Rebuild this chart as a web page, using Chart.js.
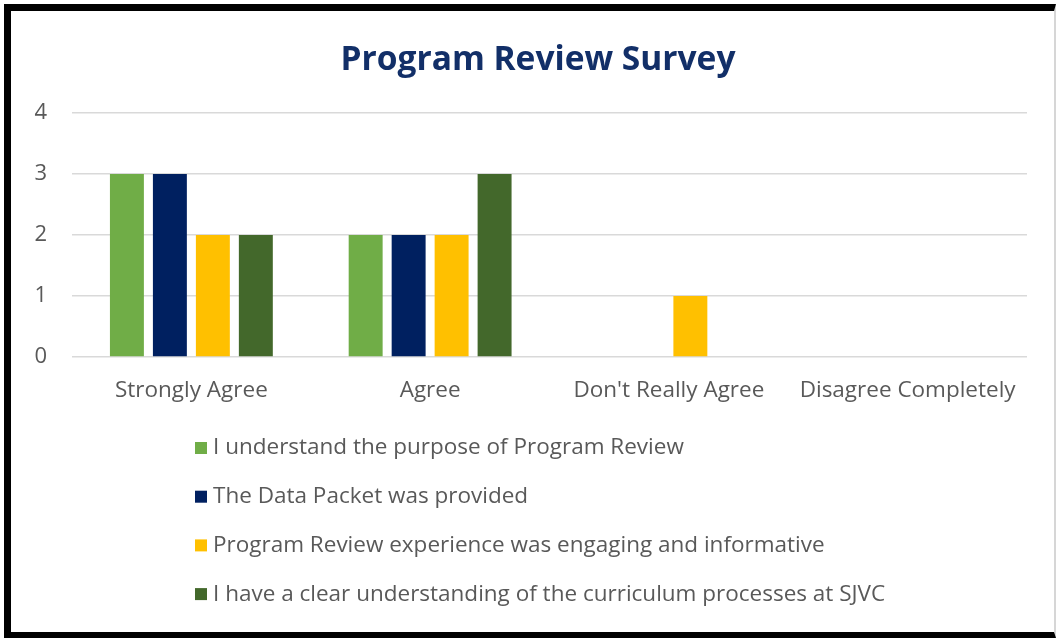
<!DOCTYPE html>
<html>
<head>
<meta charset="utf-8">
<script src="https://cdn.jsdelivr.net/npm/chart.js@4.4.1/dist/chart.umd.min.js"></script>
<style>
  html, body { margin: 0; padding: 0; background: #ffffff; }
  #wrap { position: relative; width: 1060px; height: 638px; overflow: hidden; }
  #c { position: absolute; left: 0; top: 0; }
  #frame {
    position: absolute; left: 4px; top: 4px; width: 1052px; height: 634px;
    box-sizing: border-box;
    border-left: 7px solid #000; border-top: 7px solid #000; border-bottom: 6px solid #000;
    border-right: 2px solid #d6d6d6;
    pointer-events: none;
  }
</style>
</head>
<body>
<div id="wrap">
  <canvas id="c" width="1060" height="638"></canvas>
  <div id="frame"></div>
</div>
<script>
const categories = ["Strongly Agree", "Agree", "Don't Really Agree", "Disagree Completely"];
const seriesNames = [
  "I understand the purpose of Program Review",
  "The Data Packet was provided",
  "Program Review experience was engaging and informative",
  "I have a clear understanding of the curriculum processes at SJVC"
];
const understandPurpose = [3, 2, 0, 0];
const dataPacket = [3, 2, 0, 0];
const engaging = [2, 2, 1, 0];
const clearUnderstanding = [2, 3, 0, 0];
const yTicks = [0, 1, 2, 3, 4];
const colors = ["#70AD47", "#002060", "#FFC000", "#43682B"];
const chartTitle = "Program Review Survey";

const FONT = "'Open Sans', 'Noto Sans', sans-serif";
const TEXT_COLOR = "#595959";

const titlePlugin = {
  id: 'offsetTitle',
  afterDraw(chart) {
    const ctx = chart.ctx;
    ctx.save();
    ctx.font = "bold 33.5px " + FONT;
    ctx.fillStyle = "#122F68";
    ctx.textAlign = 'center';
    ctx.textBaseline = 'middle';
    ctx.fillText(chartTitle, 538, 60);
    ctx.restore();
  }
};

const legendPlugin = {
  id: 'verticalLegend',
  afterDraw(chart) {
    const ctx = chart.ctx;
    ctx.save();
    ctx.font = "22.5px " + FONT;
    ctx.textBaseline = 'middle';
    ctx.textAlign = 'left';
    const startY = 448, step = 48.7, boxX = 195, box = 12, textX = 213;
    chart.data.datasets.forEach((ds, i) => {
      const y = startY + i * step;
      ctx.fillStyle = ds.backgroundColor;
      ctx.fillRect(boxX, y - box / 2, box, box);
      ctx.fillStyle = TEXT_COLOR;
      ctx.fillText(ds.label, textX, y);
    });
    ctx.restore();
  }
};

const seriesData = [understandPurpose, dataPacket, engaging, clearUnderstanding];

new Chart(document.getElementById('c'), {
  type: 'bar',
  data: {
    labels: categories,
    datasets: seriesData.map((d, i) => ({
      label: seriesNames[i],
      data: d,
      backgroundColor: colors[i],
      borderWidth: 0,
      categoryPercentage: 0.72,
      barPercentage: 0.79
    }))
  },
  options: {
    responsive: false,
    animation: false,
    devicePixelRatio: 1,
    layout: { padding: { left: 12, right: 33, top: 113, bottom: 214 } },
    plugins: {
      legend: { display: false },
      tooltip: { enabled: false },
      title: { display: false }
    },
    scales: {
      x: {
        grid: { display: false, drawTicks: false },
        border: { display: false },
        ticks: { color: TEXT_COLOR, font: { family: FONT, size: 22.5 }, padding: 20, maxRotation: 0 }
      },
      y: {
        min: 0, max: 4,
        afterFit(scale) { scale.width = 60; },
        afterBuildTicks(scale) { scale.ticks = yTicks.map(v => ({ value: v })); },
        grid: { color: "#D9D9D9", lineWidth: 1.5, drawTicks: false },
        border: { display: false },
        ticks: { color: TEXT_COLOR, font: { family: FONT, size: 22 }, padding: 25, stepSize: 1 }
      }
    }
  },
  plugins: [titlePlugin, legendPlugin]
});
</script>
</body>
</html>
